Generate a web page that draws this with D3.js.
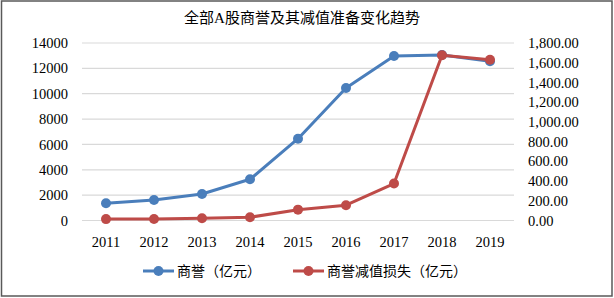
<!DOCTYPE html>
<html>
<head>
<meta charset="utf-8">
<script src="https://cdn.jsdelivr.net/npm/d3@7"></script>
<style>
  body { margin: 0; background: #fff; }
  text { font-family: "Liberation Serif", "Noto Sans CJK SC", serif; fill: #000; }
</style>
</head>
<body>
<div id="container"></div>
<script>
let w = 614;
let h = 298;

// data
let years = ["2011", "2012", "2013", "2014", "2015", "2016", "2017", "2018", "2019"];
let goodwill = [1360, 1620, 2090, 3250, 6450, 10450, 12980, 13060, 12560];
let impairment = [14, 15, 23, 33, 110, 155, 375, 1675, 1630];
let leftTicks = [0, 2000, 4000, 6000, 8000, 10000, 12000, 14000];
let rightTicks = [0, 200, 400, 600, 800, 1000, 1200, 1400, 1600, 1800];

let title = "全部A股商誉及其减值准备变化趋势";
let seriesNames = ["商誉（亿元）", "商誉减值损失（亿元）"];
let colors = ["#4a7ebb", "#be4b48"];

let viz = d3.select("#container")
  .append("svg")
  .attr("width", w)
  .attr("height", h)
  .style("display", "block")
  ;

// chart frame
viz.append("rect")
  .attr("x", 1.5)
  .attr("y", 1)
  .attr("width", 610.5)
  .attr("height", 295)
  .attr("fill", "white")
  .attr("stroke", "#595959")
  .attr("stroke-width", 1.5);

viz.append("text")
  .attr("x", 302)
  .attr("y", 23)
  .attr("text-anchor", "middle")
  .style("font-size", "15px")
  .text(title);

let plotLeft = 82;
let plotRight = 514;
let plotTop = 43;
let plotBottom = 220.5;

let xScale = d3.scaleBand().domain(years).range([plotLeft, plotRight]);
let yLeft = d3.scaleLinear().domain([0, 14000]).range([plotBottom, plotTop]);
let yRight = d3.scaleLinear().domain([0, 1800]).range([plotBottom, plotTop]);

// gridlines
viz.append("g").attr("class", "grid")
  .selectAll("line").data(leftTicks).enter()
  .append("line")
  .attr("x1", plotLeft)
  .attr("x2", plotRight)
  .attr("y1", d => yLeft(d))
  .attr("y2", d => yLeft(d))
  .attr("stroke", "#d9d9d9")
  .attr("stroke-width", 1.2);

// left axis
let leftAxis = d3.axisLeft(yLeft).tickValues(leftTicks).tickSize(0).tickPadding(0).tickFormat(d3.format("d"));
let leftGroup = viz.append("g").attr("transform", "translate(68,0)").call(leftAxis);

// right axis
let rightAxis = d3.axisRight(yRight).tickValues(rightTicks).tickSize(0).tickPadding(0).tickFormat(d3.format(",.2f"));
let rightGroup = viz.append("g").attr("transform", "translate(528,0)").call(rightAxis);

// bottom axis
let bottomAxis = d3.axisBottom(xScale).tickSize(0).tickPadding(0);
let bottomGroup = viz.append("g").attr("transform", "translate(0,236)").call(bottomAxis);

[leftGroup, rightGroup, bottomGroup].forEach(g => {
  g.select(".domain").remove();
  g.selectAll("text").style("font-size", "14.5px").attr("fill", "#000");
});
bottomGroup.selectAll("text").attr("dy", "0.75em");

function cx(d, i) {
  return xScale(years[i]) + xScale.bandwidth() / 2;
}

let series = [
  { values: goodwill, scale: yLeft, color: colors[0] },
  { values: impairment, scale: yRight, color: colors[1] }
];

series.forEach(s => {
  let line = d3.line().x(cx).y(d => s.scale(d));
  let g = viz.append("g");
  g.append("path")
    .attr("d", line(s.values))
    .attr("fill", "none")
    .attr("stroke", s.color)
    .attr("stroke-width", 3)
    .attr("stroke-linejoin", "round");
  g.selectAll("circle").data(s.values).enter()
    .append("circle")
    .attr("cx", cx)
    .attr("cy", d => s.scale(d))
    .attr("r", 5)
    .attr("fill", s.color);
});

// legend
let legendX = [143, 293];
let legend = viz.append("g");
seriesNames.forEach((name, i) => {
  let lg = legend.append("g").attr("transform", "translate(" + legendX[i] + ",271)");
  lg.append("line")
    .attr("x1", 0).attr("x2", 31)
    .attr("stroke", colors[i]).attr("stroke-width", 3);
  lg.append("circle").attr("cx", 15.5).attr("r", 5).attr("fill", colors[i]);
  lg.append("text")
    .attr("x", 34)
    .attr("dy", "0.36em")
    .style("font-size", "14px")
    .text(name);
});
</script>
</body>
</html>
